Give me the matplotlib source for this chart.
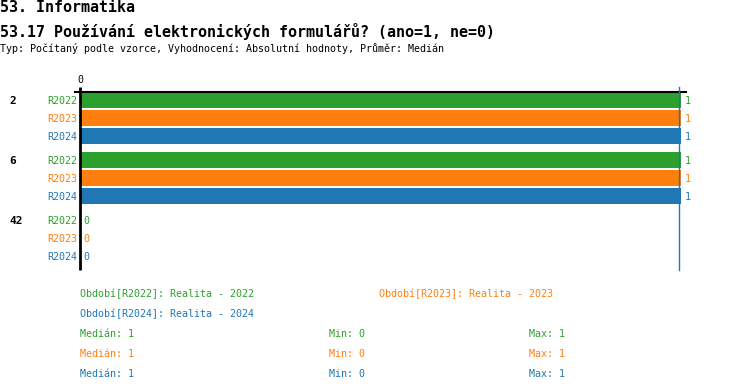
import matplotlib
matplotlib.use("Agg")
import matplotlib.pyplot as plt
from matplotlib.transforms import blended_transform_factory

# ---- data ----
groups = ["2", "6", "42"]
periods = ["R2022", "R2023", "R2024"]
r2022 = [1, 1, 0]
r2023 = [1, 1, 0]
r2024 = [1, 1, 0]
series = [r2022, r2023, r2024]
colors = ["#2ca02c", "#ff7f0e", "#1f77b4"]
legend_texts = ["Období[R2022]: Realita - 2022",
                "Období[R2023]: Realita - 2023",
                "Období[R2024]: Realita - 2024"]
medians = [1, 1, 1]
mins = [0, 0, 0]
maxs = [1, 1, 1]
median_line = 1

W, H = 750, 392
FONT = "DejaVu Sans Mono"
plt.rcParams["font.family"] = [FONT, "DejaVu Sans"]

fig = plt.figure(figsize=(W / 100, H / 100), dpi=100)

def fx(px):
    return px / W

def fy(py):
    return 1 - py / H

# titles
fig.text(fx(0), fy(8), "53. Informatika", fontsize=10.8, fontweight="bold", va="center", ha="left")
fig.text(fx(0), fy(31), "53.17 Používání elektronických formulářů? (ano=1, ne=0)",
         fontsize=10.8, fontweight="bold", va="center", ha="left")
fig.text(fx(0), fy(49), "Typ: Počítaný podle vzorce, Vyhodnocení: Absolutní hodnoty, Průměr: Medián",
         fontsize=7.2, va="center", ha="left")

# axes: x 80..681 px, y 87..270 px
ax_left, ax_right, ax_top, ax_bot = 80, 681, 87, 270
ax = fig.add_axes([fx(ax_left), fy(ax_bot), (ax_right - ax_left) / W, (ax_bot - ax_top) / H])
ax.set_xlim(0, 1)
ax.set_ylim(ax_bot, ax_top)
ax.axis("off")

row_pitch, group_pitch, first = 18, 60, 100
bar_h = 15.5
trans = blended_transform_factory(ax.transAxes, ax.transData)
ax_w = ax_right - ax_left
for g, gname in enumerate(groups):
    gy = first + g * group_pitch
    ax.text((9 - ax_left) / ax_w, gy + 1, gname, transform=trans, fontsize=8,
            fontweight="bold", ha="left", va="center", color="black")
    for k, (p, vals, c) in enumerate(zip(periods, series, colors)):
        y = gy + k * row_pitch
        v = vals[g]
        if v > 0:
            ax.barh(y, v, height=bar_h, color=c, left=0)
        ax.text((77 - ax_left) / ax_w, y + 1, p, transform=trans, fontsize=7.2,
                ha="right", va="center", color=c)
        ax.annotate(str(v), xy=(v, y + 1), xytext=(2.5, 0), textcoords="offset points",
                    fontsize=7.2, ha="left", va="center", color=c)

# axis lines
ax.plot([0, 0], [ax_top, ax_bot], color="black", lw=2, solid_capstyle="butt", clip_on=False)
ax.plot([(75 - ax_left) / ax_w, (686 - ax_left) / ax_w], [92, 92], color="black", lw=1.5,
        transform=trans, clip_on=False)
ax.plot([median_line * (679 - ax_left) / ax_w] * 2, [ax_top, ax_bot], color="#1f77b4", lw=1,
        clip_on=False)
ax.text(0, 80, "0", fontsize=7.2, ha="center", va="center", color="black")

# legend
fig.text(fx(80), fy(294), legend_texts[0], fontsize=7.2, color=colors[0], va="center")
fig.text(fx(379), fy(294), legend_texts[1], fontsize=7.2, color=colors[1], va="center")
fig.text(fx(80), fy(314), legend_texts[2], fontsize=7.2, color=colors[2], va="center")
for i, c in enumerate(colors):
    yy = 334 + 20 * i
    fig.text(fx(80), fy(yy), f"Medián: {medians[i]}", fontsize=7.2, color=c, va="center")
    fig.text(fx(329), fy(yy), f"Min: {mins[i]}", fontsize=7.2, color=c, va="center")
    fig.text(fx(529), fy(yy), f"Max: {maxs[i]}", fontsize=7.2, color=c, va="center")

fig.savefig("out.png", dpi=100)
